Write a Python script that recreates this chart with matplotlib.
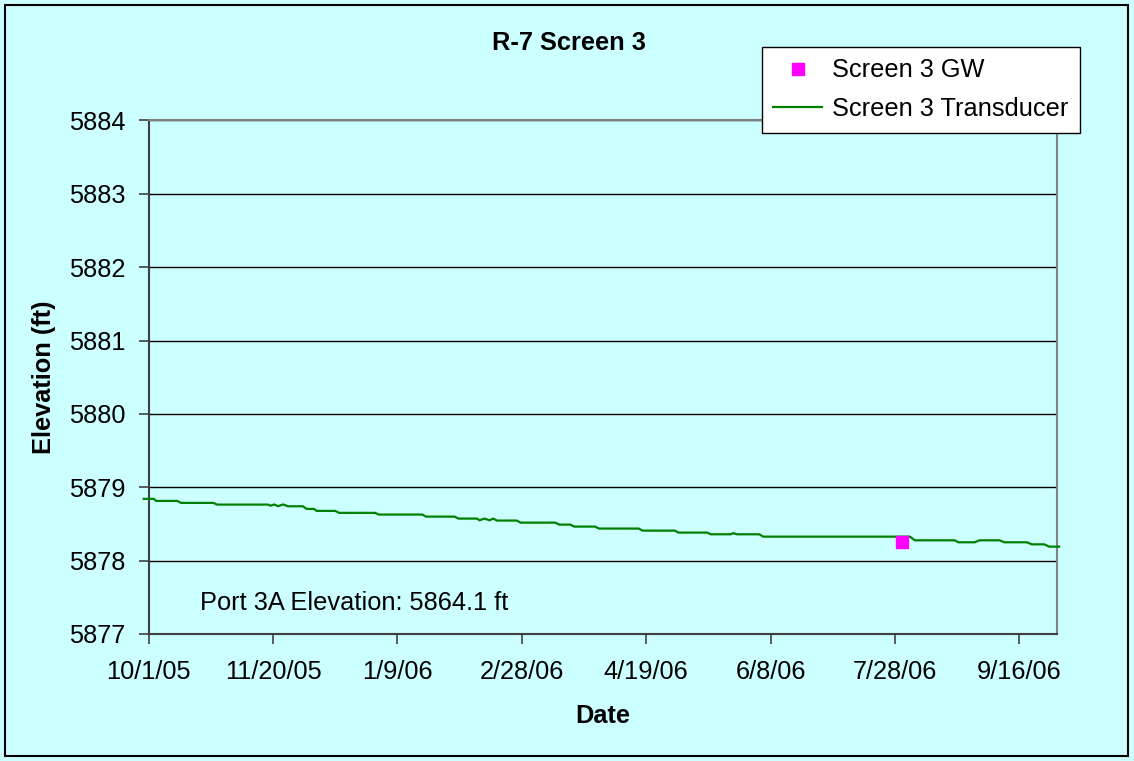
import pandas as pd
import numpy as np
import matplotlib.pyplot as plt
from matplotlib.patches import Rectangle

# transducer record: days after 10/1/05 and elevation (ft)
start = pd.Timestamp('2005-10-01')
trans_days = [-2, 2, 3, 11.5, 13, 26, 27.5, 48, 49, 50.5, 52, 54, 56, 62, 63.5, 66.5, 67.5,
              75, 76.5, 91, 92.5, 110, 111.5, 123, 124.5, 132, 133, 135, 137, 138.5, 140,
              148, 149.5, 163.5, 165, 169.5, 171, 179.5, 181, 197, 198.5, 211.5, 213,
              224.5, 226, 234, 235, 236.5, 245.5, 247, 306, 308, 324, 325.5, 332, 334,
              342, 344, 353, 355, 360, 362, 366]
trans_elev = [5878.842, 5878.842, 5878.814, 5878.814, 5878.787, 5878.787, 5878.764, 5878.764,
              5878.748, 5878.766, 5878.742, 5878.766, 5878.741, 5878.741, 5878.705, 5878.705,
              5878.678, 5878.678, 5878.651, 5878.651, 5878.628, 5878.628, 5878.600, 5878.600,
              5878.573, 5878.573, 5878.550, 5878.573, 5878.550, 5878.573, 5878.546, 5878.546,
              5878.518, 5878.518, 5878.491, 5878.491, 5878.464, 5878.464, 5878.437, 5878.437,
              5878.409, 5878.409, 5878.382, 5878.382, 5878.359, 5878.359, 5878.375, 5878.359,
              5878.359, 5878.327, 5878.327, 5878.277, 5878.277, 5878.250, 5878.250, 5878.277,
              5878.277, 5878.250, 5878.250, 5878.222, 5878.222, 5878.191, 5878.191]

# manual groundwater measurement
gw_days = [303]
gw_elev = [5878.26]

tick_days = [0, 50, 100, 150, 200, 250, 300, 350]
tick_labels = ['10/1/05', '11/20/05', '1/9/06', '2/28/06', '4/19/06', '6/8/06', '7/28/06', '9/16/06']

trans_time = start + pd.to_timedelta(trans_days, unit='D')
gw_time = start + pd.to_timedelta(gw_days, unit='D')
tick_time = start + pd.to_timedelta(tick_days, unit='D')

plt.rcParams['font.family'] = ['Liberation Sans', 'DejaVu Sans']
bg = '#CCFFFF'
fs = 18.3

fig = plt.figure(figsize=(11.34, 7.61), dpi=100, facecolor=bg)
ax = fig.add_axes([0.1311, 0.1669, 0.8007, 0.6748], facecolor=bg)

# outer chart border
fig.patches.append(Rectangle((0.004, 0.006), 0.991, 0.988, transform=fig.transFigure,
                             fill=False, edgecolor='black', lw=1.5))

ax.plot(trans_time, trans_elev, color='#008000', lw=1.6, clip_on=False, zorder=3,
        label='Screen 3 Transducer')
ax.plot(gw_time, gw_elev, ls='none', marker='s', ms=8.5, color='#FF00FF', mec='#FF00FF',
        zorder=4, label='Screen 3 GW')

ax.set_xlim(start, start + pd.Timedelta(days=365))
ax.set_ylim(5877, 5884)
ax.set_yticks(range(5877, 5885))
ax.set_xticks(tick_time)
ax.set_xticklabels(tick_labels)

ax.grid(axis='y', color='black', lw=1.0)
ax.set_axisbelow(True)
for s in ['top', 'right']:
    ax.spines[s].set_color('#808080')
    ax.spines[s].set_linewidth(1.5)
for s in ['left', 'bottom']:
    ax.spines[s].set_color('#404040')
    ax.spines[s].set_linewidth(1.5)
ax.tick_params(axis='both', direction='out', length=7, width=1.2, color='#404040',
               labelsize=fs, pad=10)
ax.tick_params(axis='x', pad=12)

ax.set_xlabel('Date', fontsize=fs, fontweight='bold', labelpad=14)
ax.set_ylabel('Elevation (ft)', fontsize=fs, fontweight='bold', labelpad=9)
fig.text(0.5015, 0.944, 'R-7 Screen 3', fontsize=fs, fontweight='bold', ha='center', va='center')

ax.text(0.056, 0.06, 'Port 3A Elevation: 5864.1 ft', transform=ax.transAxes, fontsize=fs,
        va='center', ha='left')

h, l = ax.get_legend_handles_labels()
leg = fig.legend(h[::-1], l[::-1], loc='upper left', bbox_to_anchor=(762 / 1134, 1 - 47 / 761),
                 fontsize=fs, frameon=True, fancybox=False, framealpha=1, edgecolor='black',
                 facecolor='white', handlelength=1.9, handletextpad=0.4, borderpad=0.45,
                 labelspacing=0.58, borderaxespad=0, markerscale=0.95)
leg.get_frame().set_linewidth(1.0)

fig.savefig('out.png', dpi=100, facecolor=bg)
